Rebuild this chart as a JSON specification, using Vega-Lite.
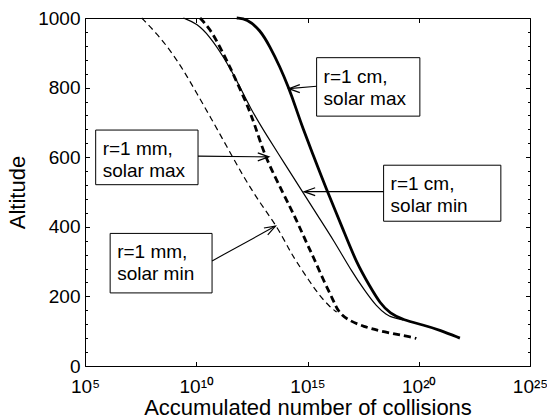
{
  "$schema": "https://vega.github.io/schema/vega-lite/v6.json",
  "width": 445,
  "height": 348,
  "autosize": "none",
  "padding": {"left": 85, "top": 18, "right": 17, "bottom": 53},
  "background": "white",
  "config": {
    "font": "Liberation Sans",
    "view": {"stroke": "black", "strokeWidth": 1},
    "axis": {
      "domain": false,
      "grid": false,
      "tickColor": "black",
      "tickWidth": 1,
      "labelColor": "black",
      "titleColor": "black",
      "labelFont": "Liberation Sans",
      "titleFont": "Liberation Sans",
      "labelFontSize": 19,
      "titleFontSize": 22,
      "titleFontWeight": "normal",
      "labelOverlap": false,
      "labelFlush": false
    }
  },
  "datasets": {
    "cm_max": [
      {"lc": 11.82, "alt": 1000}, {"lc": 12.27, "alt": 998}, {"lc": 12.87, "alt": 966},
      {"lc": 13.31, "alt": 918}, {"lc": 13.76, "alt": 860}, {"lc": 14.14, "alt": 802},
      {"lc": 14.51, "alt": 736}, {"lc": 14.74, "alt": 692}, {"lc": 15.29, "alt": 600},
      {"lc": 15.81, "alt": 514}, {"lc": 16.61, "alt": 391}, {"lc": 17.21, "alt": 295},
      {"lc": 17.81, "alt": 228}, {"lc": 18.26, "alt": 180}, {"lc": 18.71, "alt": 151},
      {"lc": 19.31, "alt": 132}, {"lc": 20.2, "alt": 118}, {"lc": 20.96, "alt": 103},
      {"lc": 21.85, "alt": 80}
    ],
    "cm_min": [
      {"lc": 9.42, "alt": 1000}, {"lc": 10.02, "alt": 985}, {"lc": 10.62, "alt": 946},
      {"lc": 11.22, "alt": 889}, {"lc": 11.82, "alt": 822}, {"lc": 12.42, "alt": 741},
      {"lc": 13.2, "alt": 659}, {"lc": 13.97, "alt": 582}, {"lc": 14.75, "alt": 503},
      {"lc": 15.49, "alt": 429}, {"lc": 16.17, "alt": 362}, {"lc": 17.04, "alt": 266},
      {"lc": 17.56, "alt": 218}, {"lc": 18.11, "alt": 170}, {"lc": 18.56, "alt": 147},
      {"lc": 18.8, "alt": 140}, {"lc": 19.31, "alt": 132}
    ],
    "mm_max": [
      {"lc": 10.17, "alt": 1000}, {"lc": 10.62, "alt": 969}, {"lc": 11.07, "alt": 916},
      {"lc": 11.52, "alt": 859}, {"lc": 11.82, "alt": 816}, {"lc": 12.27, "alt": 754},
      {"lc": 12.64, "alt": 692}, {"lc": 13.09, "alt": 601}, {"lc": 13.91, "alt": 496},
      {"lc": 14.51, "alt": 419}, {"lc": 15.04, "alt": 342}, {"lc": 15.26, "alt": 314},
      {"lc": 15.71, "alt": 247}, {"lc": 16.16, "alt": 189}, {"lc": 16.38, "alt": 156},
      {"lc": 16.76, "alt": 134}, {"lc": 17.51, "alt": 113}, {"lc": 18.41, "alt": 98},
      {"lc": 19.76, "alt": 82}, {"lc": 19.89, "alt": 79}
    ],
    "mm_min": [
      {"lc": 7.55, "alt": 1000}, {"lc": 8.23, "alt": 955}, {"lc": 8.83, "alt": 907},
      {"lc": 9.43, "alt": 850}, {"lc": 10.03, "alt": 783}, {"lc": 10.63, "alt": 716},
      {"lc": 11.38, "alt": 630}, {"lc": 12.13, "alt": 543}, {"lc": 12.88, "alt": 467},
      {"lc": 13.64, "alt": 400}, {"lc": 14.19, "alt": 333}, {"lc": 14.46, "alt": 304},
      {"lc": 15.05, "alt": 247}, {"lc": 15.52, "alt": 204}, {"lc": 16.0, "alt": 170},
      {"lc": 16.31, "alt": 155}
    ],
    "boxes": [
      {"name": "cm_max", "lc": 15.41, "lc2": 20.05, "alt": 886, "alt2": 718, "text": "r=1 cm,\nsolar max"},
      {"name": "cm_min", "lc": 18.42, "lc2": 23.69, "alt": 577, "alt2": 416, "text": "r=1 cm,\nsolar min"},
      {"name": "mm_max", "lc": 5.48, "lc2": 10.08, "alt": 678, "alt2": 521, "text": "r=1 mm,\nsolar max"},
      {"name": "mm_min", "lc": 6.13, "lc2": 10.71, "alt": 381, "alt2": 210, "text": "r=1 mm,\nsolar min"}
    ],
    "arrows": [
      {"name": "cm_max", "lc": 15.41, "alt": 804, "lc2": 14.16, "alt2": 797},
      {"name": "cm_min", "lc": 18.42, "alt": 501, "lc2": 14.85, "alt2": 501},
      {"name": "mm_max", "lc": 10.08, "alt": 603, "lc2": 13.26, "alt2": 601},
      {"name": "mm_min", "lc": 10.71, "alt": 302, "lc2": 13.56, "alt2": 402}
    ]
  },
  "resolve": {"axis": {"x": "independent", "y": "independent"}},
  "layer": [
    {
      "data": {"name": "cm_max"},
      "mark": {"type": "line", "color": "black", "strokeWidth": 2.8, "interpolate": "basis"},
      "encoding": {
        "x": {"field": "lc", "type": "quantitative", "scale": {"domain": [5, 25], "nice": false},
          "axis": {"orient": "bottom", "values": [5, 10, 15, 20, 25], "tickSize": -4.5, "labelPadding": 16,
            "labelExpr": "datum.value == 5 ? '10⁵' : datum.value == 10 ? '10¹⁰' : datum.value == 15 ? '10¹⁵' : datum.value == 20 ? '10²⁰' : '10²⁵'",
            "title": "Accumulated number of collisions", "titlePadding": 1}},
        "y": {"field": "alt", "type": "quantitative", "scale": {"domain": [0, 1000], "nice": false},
          "axis": {"orient": "left", "values": [0, 200, 400, 600, 800, 1000], "format": "d", "tickSize": -4.5, "labelPadding": 9.5,
            "title": "Altitude", "titlePadding": 8}}
      }
    },
    {
      "data": {"name": "cm_min"},
      "mark": {"type": "line", "color": "black", "strokeWidth": 1.2, "interpolate": "basis"},
      "encoding": {
        "x": {"field": "lc", "type": "quantitative", "scale": {"domain": [5, 25], "nice": false}, "axis": null},
        "y": {"field": "alt", "type": "quantitative", "scale": {"domain": [0, 1000], "nice": false}, "axis": null}
      }
    },
    {
      "data": {"name": "mm_max"},
      "mark": {"type": "line", "color": "black", "strokeWidth": 2.8, "strokeDash": [7, 4], "interpolate": "basis"},
      "encoding": {
        "x": {"field": "lc", "type": "quantitative", "scale": {"domain": [5, 25], "nice": false}, "axis": null},
        "y": {"field": "alt", "type": "quantitative", "scale": {"domain": [0, 1000], "nice": false}, "axis": null}
      }
    },
    {
      "data": {"name": "mm_min"},
      "mark": {"type": "line", "color": "black", "strokeWidth": 1.2, "strokeDash": [6, 4], "interpolate": "basis"},
      "encoding": {
        "x": {"field": "lc", "type": "quantitative", "scale": {"domain": [5, 25], "nice": false}, "axis": null},
        "y": {"field": "alt", "type": "quantitative", "scale": {"domain": [0, 1000], "nice": false}, "axis": null}
      }
    },
    {
      "data": {"name": "boxes"},
      "mark": {"type": "rect", "fill": "white", "stroke": "black", "strokeWidth": 1},
      "encoding": {
        "x": {"field": "lc", "type": "quantitative", "scale": {"domain": [5, 25], "nice": false},
          "axis": {"orient": "top", "values": [5, 10, 15, 20, 25], "tickSize": -4.5, "labels": false, "title": null}},
        "x2": {"field": "lc2"},
        "y": {"field": "alt", "type": "quantitative", "scale": {"domain": [0, 1000], "nice": false},
          "axis": {"orient": "right", "values": [0, 200, 400, 600, 800, 1000], "tickSize": -4.5, "labels": false, "title": null}},
        "y2": {"field": "alt2"}
      }
    },
    {
      "data": {"name": "boxes"},
      "mark": {"type": "text", "align": "left", "baseline": "top", "dx": 7, "dy": 10, "fontSize": 19, "lineHeight": 22, "lineBreak": "\n", "color": "black", "font": "Liberation Sans"},
      "encoding": {
        "x": {"field": "lc", "type": "quantitative", "scale": {"domain": [5, 25], "nice": false}, "axis": null},
        "y": {"field": "alt", "type": "quantitative", "scale": {"domain": [0, 1000], "nice": false},
          "axis": {"orient": "left", "values": [40, 80, 120, 160, 240, 280, 320, 360, 440, 480, 520, 560, 640, 680, 720, 760, 840, 880, 920, 960], "tickSize": -2.5, "labels": false, "title": null}},
        "text": {"field": "text"}
      }
    },
    {
      "data": {"name": "arrows"},
      "mark": {"type": "rule", "color": "black", "strokeWidth": 1.1},
      "encoding": {
        "x": {"field": "lc", "type": "quantitative", "scale": {"domain": [5, 25], "nice": false}, "axis": null},
        "x2": {"field": "lc2"},
        "y": {"field": "alt", "type": "quantitative", "scale": {"domain": [0, 1000], "nice": false},
          "axis": {"orient": "right", "values": [40, 80, 120, 160, 240, 280, 320, 360, 440, 480, 520, 560, 640, 680, 720, 760, 840, 880, 920, 960], "tickSize": -2.5, "labels": false, "title": null}},
        "y2": {"field": "alt2"}
      }
    },
    {
      "data": {"name": "arrows"},
      "transform": [{"filter": "datum.name == 'cm_max' || datum.name == 'cm_min'"}],
      "mark": {"type": "point", "shape": "M -1 -0.36 L 0 0 L -1 0.36", "filled": false, "stroke": "black", "strokeWidth": 1.2, "size": 484, "angle": 180, "opacity": 1},
      "encoding": {
        "x": {"field": "lc2", "type": "quantitative", "scale": {"domain": [5, 25], "nice": false}, "axis": null},
        "y": {"field": "alt2", "type": "quantitative", "scale": {"domain": [0, 1000], "nice": false}, "axis": null}
      }
    },
    {
      "data": {"name": "arrows"},
      "transform": [{"filter": "datum.name == 'mm_max'"}],
      "mark": {"type": "point", "shape": "M -1 -0.36 L 0 0 L -1 0.36", "filled": false, "stroke": "black", "strokeWidth": 1.2, "size": 484, "angle": 0, "opacity": 1},
      "encoding": {
        "x": {"field": "lc2", "type": "quantitative", "scale": {"domain": [5, 25], "nice": false}, "axis": null},
        "y": {"field": "alt2", "type": "quantitative", "scale": {"domain": [0, 1000], "nice": false}, "axis": null}
      }
    },
    {
      "data": {"name": "arrows"},
      "transform": [{"filter": "datum.name == 'mm_min'"}],
      "mark": {"type": "point", "shape": "M -1 -0.36 L 0 0 L -1 0.36", "filled": false, "stroke": "black", "strokeWidth": 1.2, "size": 484, "angle": 331, "opacity": 1},
      "encoding": {
        "x": {"field": "lc2", "type": "quantitative", "scale": {"domain": [5, 25], "nice": false}, "axis": null},
        "y": {"field": "alt2", "type": "quantitative", "scale": {"domain": [0, 1000], "nice": false}, "axis": null}
      }
    }
  ]
}
